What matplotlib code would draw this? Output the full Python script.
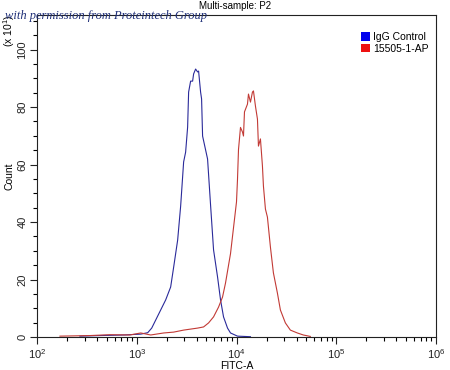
import matplotlib
matplotlib.use("Agg")
import matplotlib.pyplot as plt
from matplotlib.patches import Patch
from matplotlib.ticker import MultipleLocator, LogLocator, FixedLocator
import numpy as np

plt.rcParams['font.family'] = ['Liberation Sans', 'DejaVu Sans']
plt.rcParams['mathtext.fontset'] = 'custom'
plt.rcParams['mathtext.rm'] = 'Liberation Sans'
plt.rcParams['mathtext.it'] = 'Liberation Sans'

# Data (log10 of FITC-A, count in units of x10)
igg_log = [2.43, 2.63, 2.87, 3.04, 3.11, 3.15, 3.19, 3.24, 3.29, 3.34, 3.37, 3.41, 3.44,
           3.47, 3.49, 3.51, 3.52, 3.54, 3.56, 3.57, 3.59, 3.61, 3.62, 3.64, 3.65, 3.66,
           3.71, 3.74, 3.77, 3.81, 3.84, 3.87, 3.91, 3.94, 4.01, 4.14]
igg_cnt = [0.3, 0.5, 0.7, 1.0, 1.5, 3.1, 5.9, 9.4, 12.9, 17.4, 24.3, 33.7, 45.5,
           60.9, 64.3, 73.0, 85.2, 89.0, 89.0, 91.5, 93.2, 92.2, 92.5, 85.2, 82.8, 69.9,
           61.9, 45.9, 30.3, 20.9, 12.9, 7.0, 3.1, 1.4, 0.3, 0.1]

ab_log = [2.23, 2.53, 2.73, 2.93, 3.04, 3.14, 3.27, 3.37, 3.47, 3.61, 3.67, 3.72, 3.77,
          3.82, 3.86, 3.89, 3.94, 3.97, 4.00, 4.01, 4.02, 4.04, 4.06, 4.07, 4.08, 4.11,
          4.12, 4.14, 4.16, 4.17, 4.19, 4.21, 4.22, 4.24, 4.26, 4.27, 4.29, 4.31, 4.34,
          4.37, 4.41, 4.44, 4.49, 4.54, 4.61, 4.67, 4.74]
ab_cnt = [0.3, 0.5, 0.8, 0.7, 1.4, 0.7, 1.4, 1.7, 2.4, 3.1, 3.5, 4.9, 7.0,
          10.4, 13.9, 18.8, 29.0, 38.0, 47.0, 54.8, 65.2, 72.9, 71.3, 69.9, 78.3, 81.0,
          84.5, 81.7, 85.2, 85.6, 80.3, 75.8, 66.4, 68.9, 59.5, 52.5, 44.5, 41.7, 31.3,
          22.3, 15.3, 9.4, 4.9, 2.4, 1.4, 0.7, 0.2]

series_names = ["IgG Control", "15505-1-AP"]
line_colors = ["#2a2a9a", "#c23a35"]
legend_colors = ["#0000ee", "#ee1111"]

W, H = 450, 370
fig = plt.figure(figsize=(4.5, 3.7), dpi=100)
ax = fig.add_axes([37 / W, (H - 337) / H, (436 - 37) / W, (337 - 15) / H])

ax.plot(10 ** np.array(igg_log), igg_cnt, color=line_colors[0], lw=0.8)
ax.plot(10 ** np.array(ab_log), ab_cnt, color=line_colors[1], lw=0.8)

ax.set_xscale('log')
ax.set_xlim(1e2, 1e6)
ax.set_ylim(0, 112)
ax.xaxis.set_major_locator(FixedLocator([1e2, 1e3, 1e4, 1e5, 1e6]))
ax.xaxis.set_minor_locator(LogLocator(base=10, subs=np.arange(2, 10), numticks=20))
ax.set_xticklabels([r'$10^{%d}$' % e for e in range(2, 7)])
ax.yaxis.set_major_locator(MultipleLocator(20))
ax.yaxis.set_minor_locator(MultipleLocator(5))
for lbl in ax.get_yticklabels():
    lbl.set_rotation(90)
    lbl.set_va('center')
ax.tick_params(axis='both', which='major', direction='out', length=5, width=0.8,
               labelsize=8, colors='#222222')
ax.tick_params(axis='both', which='minor', direction='out', length=3, width=0.8)
ax.tick_params(axis='y', pad=2)
ax.tick_params(axis='x', pad=2)
for s in ax.spines.values():
    s.set_linewidth(0.8)
    s.set_color('#222222')

ax.set_xlabel('FITC-A', fontsize=7.5, labelpad=0)
ax.set_ylabel('Count', fontsize=7.5, labelpad=2)
fig.text(9 / W, 1 - 31 / H, r'(x $10^{1}$)', rotation=90, ha='center', va='center', fontsize=7.5)
fig.text(235 / W, 1 - 6 / H, 'Multi-sample: P2', ha='center', va='center', fontsize=7)
fig.text(5 / W, 1 - 16 / H, 'with permission from Proteintech Group', ha='left', va='center',
         fontsize=9, style='italic', family='Liberation Serif', color='#1f2f78')

handles = [Patch(facecolor=c, edgecolor='none') for c in legend_colors]
leg = ax.legend(handles, series_names, loc='upper right', bbox_to_anchor=(1.0, 0.97),
                frameon=False, fontsize=7.5, handlelength=0.9, handleheight=0.9,
                handletextpad=0.3, labelspacing=0.15, borderaxespad=0.3)

fig.savefig('out.png', dpi=100)
